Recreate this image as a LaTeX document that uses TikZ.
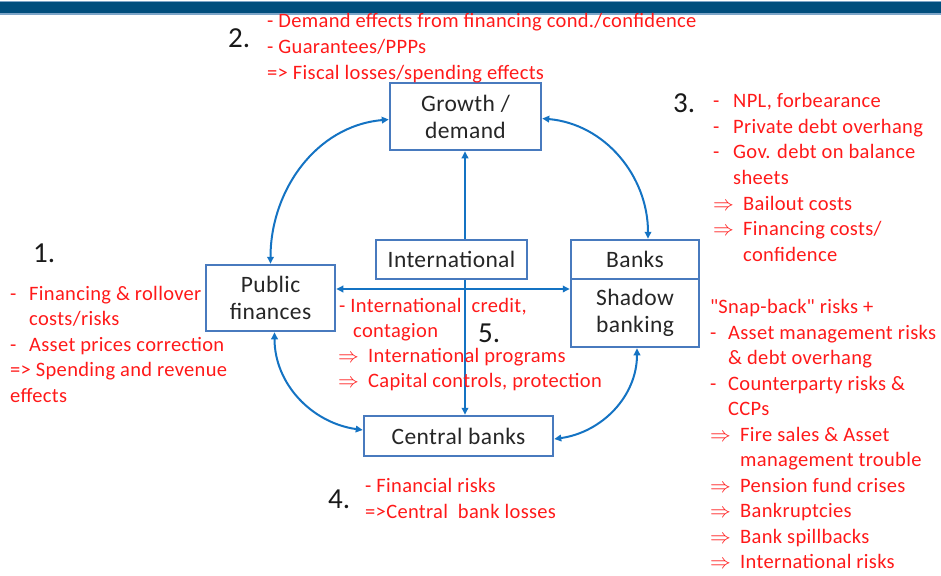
\documentclass[tikz,border=0pt]{standalone}
\usepackage{fontspec}
\setmainfont{Carlito}
\newfontfamily\spacedfont[LetterSpace=1.6]{Carlito}
\usetikzlibrary{arrows.meta,backgrounds}
\definecolor{boxblue}{RGB}{72,122,190}
\definecolor{linkblue}{RGB}{20,115,195}
\definecolor{redtxt}{RGB}{255,25,25}
\definecolor{topbar}{RGB}{0,78,125}
\definecolor{barlight}{RGB}{125,165,200}
\definecolor{darktxt}{RGB}{38,38,38}
\newcommand\arr{\makebox[30pt][l]{$\Rightarrow$}}
\newcommand\dsh[1]{\makebox[#1][l]{-}}
\begin{document}
\begin{tikzpicture}[x=1pt,y=-1pt,
 box/.style={draw=boxblue, line width=2.5pt, fill=white, text=darktxt, align=center,
   font=\spacedfont\fontsize{23.5}{27}\selectfont, inner sep=0pt},
 link/.style={draw=linkblue, line width=2pt,
   {Triangle[length=7pt,width=6.5pt]}-{Triangle[length=7pt,width=6.5pt]}},
 rt/.style={anchor=base west, text=redtxt, font=\spacedfont\fontsize{20.5}{25}\selectfont, inner sep=0pt},
 num/.style={anchor=base west, text=black!90, font=\fontsize{29}{30}\selectfont, inner sep=0pt}]

\useasboundingbox (0,0) rectangle (941,575);
\fill[barlight] (0,1) rectangle (941,15);
\fill[topbar] (0,2.5) rectangle (941,13.5);

% boxes
\node[box, minimum width=151pt, minimum height=67pt] (gr) at (465.5,116.5) {Growth /\\demand};
\node[box, minimum width=129pt, minimum height=66pt] (pf) at (270.5,298) {Public\\finances};
\node[box, minimum width=151pt, minimum height=39pt] (in) at (451.5,259.5) {International};
\node[box, minimum width=128pt, minimum height=39pt] (bk) at (635,259.5) {Banks};
\node[box, minimum width=128pt, minimum height=68pt] (sb) at (635,313) {Shadow\\banking};
\node[box, minimum width=189pt, minimum height=40pt] (cb) at (458.5,436) {Central banks};

% connectors
\coordinate (v) at (465,0);
\coordinate (h) at (0,289);
\begin{scope}[on background layer]
\draw[link] (gr.south -| v) -- (cb.north -| v);
\draw[link] (pf.east |- h) -- (sb.west |- h);
\draw[link] ([yshift=-3pt]gr.west) to[out=185,in=90] (pf.north);
\draw[link] ([yshift=-2pt]gr.east) to[out=-5,in=90] ([xshift=13pt]bk.north);
\draw[link] ([xshift=4pt]pf.south) to[out=-90,in=172] ([yshift=6pt]cb.west);
\draw[link] ([xshift=2pt]sb.south) to[out=-90,in=8] ([yshift=-3pt]cb.east);
\end{scope}

% 2.
\node[num] (n2) at (228,48) {2.};
\node[rt] (t2a) at (267,28) {- Demand effects from financing cond./confidence};
\node[rt] (t2b) at (267,54) {- Guarantees/PPPs};
\node[rt] (t2c) at (267,80) {=> Fiscal losses/spending effects};

% 1.
\node[num] (n1) at (33,262) {1.};
\node[rt] (t1a) at (10,300) {\dsh{19pt}Financing \& rollover};
\node[rt] (t1b) at (29,325.5) {costs/risks};
\node[rt] (t1c) at (10,351) {\dsh{19pt}Asset prices correction};
\node[rt] (t1d) at (10,376.5) {=> Spending and revenue};
\node[rt] (t1e) at (10,402) {effects};

% 5.
\node[num] (n5) at (478,342) {5.};
\node[rt] (t5a) at (339,312) {- International\ \ credit,};
\node[rt] (t5b) at (353,337) {contagion};
\node[rt] (t5c) at (338,362) {\arr International programs};
\node[rt] (t5d) at (338,387) {\arr Capital controls, protection};

% 4.
\node[num] (n4) at (328,508) {4.};
\node[rt] (t4a) at (365,492) {- Financial risks};
\node[rt] (t4b) at (365,518) {=>Central\ \ bank losses};

% 3.
\node[num] (n3) at (673,113) {3.};
\node[rt] (t3a) at (713,107) {\dsh{20pt}NPL, forbearance};
\node[rt] (t3b) at (713,133) {\dsh{20pt}Private debt overhang};
\node[rt] (t3c) at (713,158) {\dsh{20pt}Gov. debt on balance};
\node[rt] (t3d) at (733,184) {sheets};
\node[rt] (t3e) at (713,210) {\arr Bailout costs};
\node[rt] (t3f) at (713,235) {\arr Financing costs/};
\node[rt] (t3g) at (743,261) {confidence};

% shadow banking risks
\node[rt] (s1) at (710,313) {\textquotedbl Snap-back\textquotedbl{} risks +};
\node[rt] (s2) at (710,339) {\dsh{18pt}Asset management risks};
\node[rt] (s3) at (728,364) {\& debt overhang};
\node[rt] (s4) at (710,390) {\dsh{18pt}Counterparty risks \&};
\node[rt] (s5) at (728,415) {CCPs};
\node[rt] (s6) at (710,441) {\arr Fire sales \& Asset};
\node[rt] (s7) at (740,466) {management trouble};
\node[rt] (s8) at (710,492) {\arr Pension fund crises};
\node[rt] (s9) at (710,517) {\arr Bankruptcies};
\node[rt] (s10) at (710,543) {\arr Bank spillbacks};
\node[rt] (s11) at (710,568) {\arr International risks};
\end{tikzpicture}
\end{document}
